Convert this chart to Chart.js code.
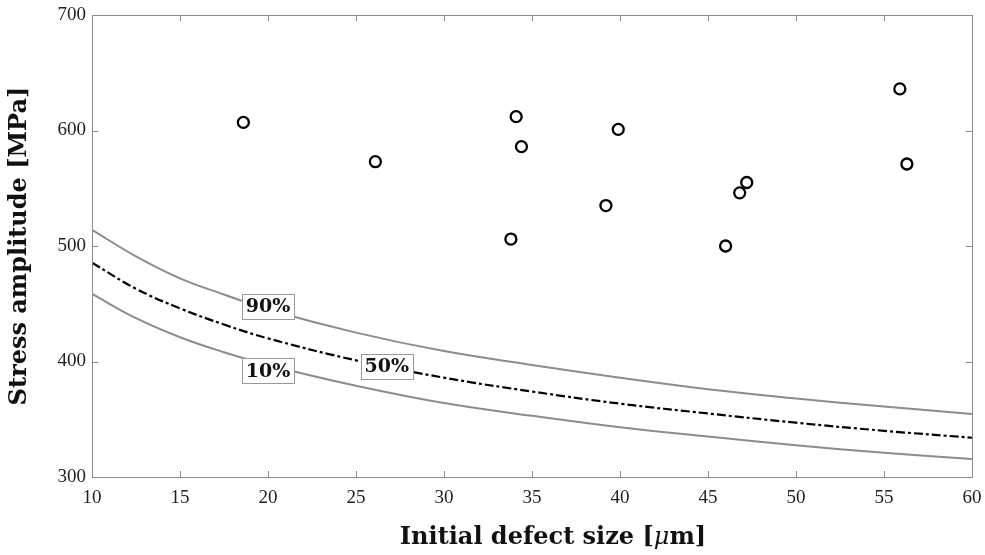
<!DOCTYPE html>
<html>
<head>
<meta charset="utf-8">
<script src="https://cdn.jsdelivr.net/npm/chart.js@4"></script>
<style>
  html, body { margin: 0; padding: 0; background: #fff; }
  #wrap { width: 985px; height: 555px; }
</style>
</head>
<body>
<div id="wrap"><canvas id="fatigueChart" width="985" height="555"></canvas></div>
<script>
"use strict";

// test results
const defectSize = [18.6, 26.1, 34.1, 34.4, 33.8, 39.2, 39.9, 46.0, 46.8, 47.2, 55.9, 56.3];
const stressAmp = [607, 573, 612, 586, 506, 535, 601, 500, 546, 555, 636, 571];

// probability curves
const curveSize = [10, 12.5, 15, 17.5, 20, 25, 30, 35, 40, 45, 50, 55, 60];
const p90 = [514, 491, 472, 458, 445, 425, 409, 397, 386, 376, 368, 361, 354.5];
const p50 = [485.5, 463, 446, 432, 420, 401, 386, 374, 363.5, 355, 347, 340, 334];
const p10 = [458.5, 437.5, 421, 408, 397, 379, 364, 353, 343, 335, 327.5, 321, 315.5];

const xTicks = [10, 15, 20, 25, 30, 35, 40, 45, 50, 55, 60];
const yTicks = [300, 400, 500, 600, 700];

// curve labels (text, anchor x, anchor y)
const curveLabels = [
  { text: "90%", x: 20.0, y: 448 },
  { text: "10%", x: 20.0, y: 392 },
  { text: "50%", x: 26.75, y: 396 },
];

const toXY = (xs, ys) => xs.map((x, i) => ({ x, y: ys[i] }));

const FRAME = "#8a8a8a";
const TITLE_FONT = "bold 24px 'DejaVu Serif', serif";

const framePlugin = {
  id: "frame",
  afterDatasetsDraw(chart) {
    const { ctx, chartArea: a, scales } = chart;
    ctx.save();
    ctx.strokeStyle = FRAME;
    ctx.lineWidth = 1;
    ctx.strokeRect(a.left + 0.5, a.top + 0.5, a.right - a.left, a.bottom - a.top);
    const len = 6;
    ctx.beginPath();
    xTicks.forEach((v) => {
      const px = Math.round(scales.x.getPixelForValue(v)) + 0.5;
      ctx.moveTo(px, a.bottom);
      ctx.lineTo(px, a.bottom - len);
      ctx.moveTo(px, a.top);
      ctx.lineTo(px, a.top + len);
    });
    yTicks.forEach((v) => {
      const py = Math.round(scales.y.getPixelForValue(v)) + 0.5;
      ctx.moveTo(a.left, py);
      ctx.lineTo(a.left + len, py);
      ctx.moveTo(a.right, py);
      ctx.lineTo(a.right - len, py);
    });
    ctx.stroke();
    ctx.restore();
  },
};

const labelPlugin = {
  id: "curveLabels",
  afterDatasetsDraw(chart) {
    const { ctx, scales } = chart;
    ctx.save();
    ctx.font = "bold 19px 'DejaVu Serif', serif";
    ctx.textAlign = "center";
    ctx.textBaseline = "middle";
    curveLabels.forEach((l) => {
      const cx = scales.x.getPixelForValue(l.x);
      const cy = scales.y.getPixelForValue(l.y);
      const w = ctx.measureText(l.text).width + 8;
      const h = 25;
      ctx.fillStyle = "#fff";
      ctx.fillRect(cx - w / 2, cy - h / 2, w, h);
      ctx.strokeStyle = "#999";
      ctx.lineWidth = 1;
      ctx.strokeRect(Math.round(cx - w / 2) + 0.5, Math.round(cy - h / 2) + 0.5, Math.round(w), h);
      ctx.fillStyle = "#111";
      ctx.fillText(l.text, cx, cy + 1);
    });
    ctx.restore();
  },
};

// axis titles, x title has an italic mu
const titlePlugin = {
  id: "axisTitles",
  afterDraw(chart) {
    const { ctx, chartArea: a } = chart;
    ctx.save();
    ctx.fillStyle = "#111";
    ctx.textBaseline = "middle";

    const parts = [
      { t: "Initial defect size [", f: TITLE_FONT },
      { t: "μ", f: "italic 24px 'DejaVu Serif', serif" },
      { t: "m]", f: TITLE_FONT },
    ];
    let total = 0;
    parts.forEach((p) => {
      ctx.font = p.f;
      p.w = ctx.measureText(p.t).width;
      total += p.w;
    });
    let x = 553 - total / 2;
    ctx.textAlign = "left";
    parts.forEach((p) => {
      ctx.font = p.f;
      ctx.fillText(p.t, x, 538);
      x += p.w;
    });

    ctx.translate(20, (a.top + a.bottom) / 2);
    ctx.rotate(-Math.PI / 2);
    ctx.font = TITLE_FONT;
    ctx.textAlign = "center";
    ctx.fillText("Stress amplitude [MPa]", 0, 0);
    ctx.restore();
  },
};

const ctx = document.getElementById("fatigueChart").getContext("2d");
new Chart(ctx, {
  type: "scatter",
  data: {
    datasets: [
      {
        label: "90%",
        data: toXY(curveSize, p90),
        showLine: true,
        borderColor: "#8c8c8c",
        borderWidth: 2,
        pointRadius: 0,
        tension: 0.4,
      },
      {
        label: "50%",
        data: toXY(curveSize, p50),
        showLine: true,
        borderColor: "#000",
        borderWidth: 2.2,
        borderDash: [9, 3, 3, 3],
        pointRadius: 0,
        tension: 0.4,
      },
      {
        label: "10%",
        data: toXY(curveSize, p10),
        showLine: true,
        borderColor: "#8c8c8c",
        borderWidth: 2,
        pointRadius: 0,
        tension: 0.4,
      },
      {
        label: "Tests",
        data: toXY(defectSize, stressAmp),
        showLine: false,
        pointRadius: 5.5,
        pointBorderWidth: 2.3,
        pointBorderColor: "#000",
        pointBackgroundColor: "rgba(0,0,0,0)",
      },
    ],
  },
  options: {
    responsive: false,
    animation: false,
    layout: { padding: { top: 15, right: 13, left: 0, bottom: 0 } },
    plugins: { legend: { display: false }, tooltip: { enabled: false } },
    scales: {
      x: {
        type: "linear",
        min: 10,
        max: 60,
        afterBuildTicks: (s) => (s.ticks = xTicks.map((v) => ({ value: v }))),
        afterFit: (s) => {
          s.height = 78;
          s.paddingLeft = 0;
          s.paddingRight = 0;
        },
        grid: { display: false, drawTicks: false },
        border: { display: false },
        ticks: { padding: 10, color: "#222", font: { family: "'Liberation Serif', serif", size: 19 }, maxRotation: 0 },
      },
      y: {
        type: "linear",
        min: 300,
        max: 700,
        afterBuildTicks: (s) => (s.ticks = yTicks.map((v) => ({ value: v }))),
        afterFit: (s) => {
          s.width = 92;
          s.paddingTop = 0;
          s.paddingBottom = 0;
        },
        grid: { display: false, drawTicks: false },
        border: { display: false },
        ticks: { padding: 6, color: "#222", font: { family: "'Liberation Serif', serif", size: 19 } },
      },
    },
  },
  plugins: [framePlugin, labelPlugin, titlePlugin],
});
</script>
</body>
</html>
